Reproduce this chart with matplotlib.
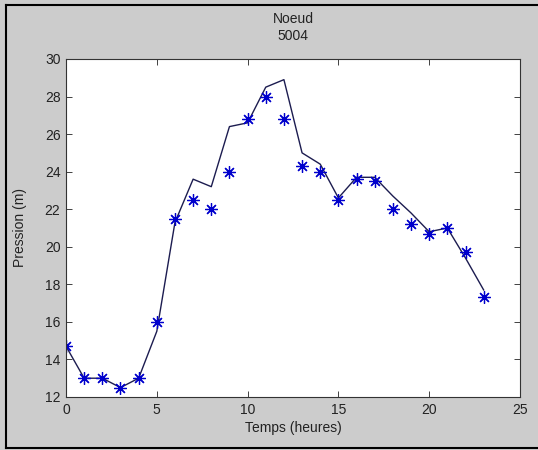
import matplotlib
matplotlib.use("Agg")
import matplotlib.pyplot as plt
from matplotlib.lines import Line2D

# hours
temps = list(range(24))
# simulated pressure (line)
pression_sim = [14.7, 13.0, 13.0, 12.5, 13.0, 15.5, 21.3, 23.6, 23.2, 26.4, 26.6, 28.5,
                28.9, 25.0, 24.4, 22.6, 23.7, 23.7, 22.7, 21.8, 20.8, 21.0, 19.4, 17.7]
# measured pressure (stars)
pression_mes = [14.7, 13.0, 13.0, 12.5, 13.0, 16.0, 21.5, 22.5, 22.0, 24.0, 26.8, 28.0,
                26.8, 24.3, 24.0, 22.5, 23.6, 23.5, 22.0, 21.2, 20.7, 21.0, 19.7, 17.3]
xticks = [0, 5, 10, 15, 20, 25]
yticks = [12, 14, 16, 18, 20, 22, 24, 26, 28, 30]

plt.rcParams['font.family'] = ['Liberation Sans', 'DejaVu Sans']
plt.rcParams['font.size'] = 10

fig = plt.figure(figsize=(5.38, 4.5), dpi=100, facecolor='#cccccc')
ax = fig.add_axes([0.1227, 0.1178, 0.8438, 0.7511])

ax.plot(temps, pression_sim, color='#1c1c50', linewidth=1.0)
# matlab style asterisk: 8 spokes
ax.plot(temps, pression_mes, linestyle='none', marker=(8, 2, 0), markersize=9,
        color='#0000cc', markeredgewidth=0.9)

ax.set_xlim(0, 25)
ax.set_ylim(12, 30)
ax.set_xticks(xticks)
ax.set_yticks(yticks)
ax.tick_params(direction='in', top=True, right=True, length=4, width=0.6,
               colors='#222222', labelcolor='#222222', pad=4)
for s in ax.spines.values():
    s.set_linewidth(0.8)
    s.set_color('#333333')

ax.set_xlabel("Temps (heures)", color='#222222', labelpad=3)
ax.set_ylabel("Pression (m)", color='#222222')
ax.yaxis.set_label_coords(-0.086, 0.5)
ax.set_title("Noeud\n5004", color='#222222', pad=14, linespacing=1.2, fontsize=10)

# dark frame around the figure (left, top, bottom)
fig.add_artist(Line2D([0.011, 0.011], [0.004, 0.988], transform=fig.transFigure, color='black', linewidth=1.5))
fig.add_artist(Line2D([0.011, 1.0], [0.988, 0.988], transform=fig.transFigure, color='black', linewidth=1.5))
fig.add_artist(Line2D([0.011, 1.0], [0.004, 0.004], transform=fig.transFigure, color='black', linewidth=1.5))

fig.savefig("out.png", dpi=100, facecolor=fig.get_facecolor())
